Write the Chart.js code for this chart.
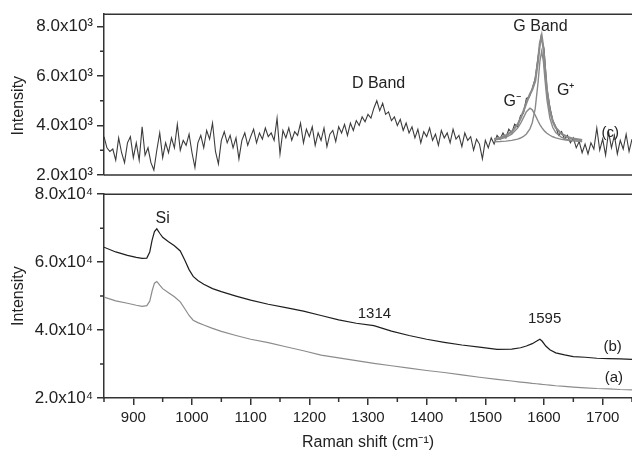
<!DOCTYPE html>
<html>
<head>
<meta charset="utf-8">
<script src="https://cdn.jsdelivr.net/npm/chart.js@4.4.0/dist/chart.umd.min.js"></script>
<style>
  html, body { margin: 0; padding: 0; background: #fff; }
  #wrap { position: relative; width: 632px; height: 450px; overflow: hidden; }
  canvas { position: absolute; left: 0; }
  #topChart { top: 0; }
  #bottomChart { top: 180px; }
</style>
</head>
<body>
<div id="wrap">
  <canvas id="topChart" width="632" height="190"></canvas>
  <canvas id="bottomChart" width="632" height="270"></canvas>
</div>
<script>
// ---- top panel (c): raw spectrum, every 5 cm-1
const ramanTop = [850,855,860,865,870,875,880,885,890,895,900,905,910,915,920,925,930,935,940,945,
  950,955,960,965,970,975,980,985,990,995,1000,1005,1010,1015,1020,1025,1030,1035,1040,1045,
  1050,1055,1060,1065,1070,1075,1080,1085,1090,1095,1100,1105,1110,1115,1120,1125,1130,1135,1140,1145,
  1150,1155,1160,1165,1170,1175,1180,1185,1190,1195,1200,1205,1210,1215,1220,1225,1230,1235,1240,1245,
  1250,1255,1260,1265,1270,1275,1280,1285,1290,1295,1300,1305,1310,1315,1320,1325,1330,1335,1340,1345,
  1350,1355,1360,1365,1370,1375,1380,1385,1390,1395,1400,1405,1410,1415,1420,1425,1430,1435,1440,1445,
  1450,1455,1460,1465,1470,1475,1480,1485,1490,1495,1500,1505,1510,1515,1520,1525,1530,1535,1540,1545,
  1550,1555,1560,1565,1570,1575,1580,1585,1590,1595,1600,1605,1610,1615,1620,1625,1630,1635,1640,1645,
  1650,1655,1660,1665,1670,1675,1680,1685,1690,1695,1700,1705,1710,1715,1720,1725,1730,1735,1740,1745,1750];
const intensityC = [3550,3100,2950,3050,2600,3500,2900,2500,3300,3550,2700,3300,2600,3950,2800,3100,2500,2200,3000,3700,
  2700,3300,2900,3500,3100,4050,3000,3400,3200,3650,2900,2300,3300,3600,3100,3800,3450,4100,2950,2450,
  3400,3750,3300,3600,3100,3500,2650,3400,3700,3200,3550,3850,3300,3700,3450,3900,3550,3700,3400,4300,
  2850,3800,3500,3900,3400,3750,3600,4100,3300,3850,3550,3950,3200,3700,3400,3900,3150,3650,3800,3350,
  3950,3700,4050,3600,4100,3800,4200,4000,4350,4150,4450,4300,4700,5000,4600,4900,4450,4550,4200,4350,
  4000,4250,3800,4100,3700,3950,3500,3850,3300,3750,3550,3900,3400,3650,3200,3800,3500,3700,3300,3850,
  3450,3600,3150,3700,3400,3550,3000,3450,3250,2650,3400,3100,3500,3250,3600,3450,3700,3500,3850,3700,
  4050,3950,4400,4500,5100,5150,5500,5900,6800,7600,7100,5500,4750,4200,3950,3600,3750,3450,3600,3300,
  3500,3100,3350,2900,3250,2850,3300,3050,3900,3000,3450,2800,3750,3100,3600,2850,3400,3050,3650,2950,3450];

// G band fit (components and sum)
const ramanFit = [1515,1525,1535,1545,1555,1560,1565,1570,1576,1580,1585,1590,1593,1596,1599,1602,1605,1610,1615,1620,1630,1640,1650,1665];
const fitGminus = [3412,3455,3526,3653,3893,4082,4320,4560,4700,4634,4420,4172,4040,3926,3832,3753,3689,3606,3546,3501,3440,3403,3378,3355];
const fitGplus = [3340,3352,3371,3400,3452,3495,3559,3657,3866,4115,4683,5770,6589,7000,6589,5770,5045,4297,3917,3712,3518,3433,3389,3355];
const fitSum = [3452,3507,3597,3753,4045,4277,4579,4917,5266,5449,5803,6642,7329,7626,7121,6223,5434,4603,4163,3913,3658,3536,3467,3410];

// ---- bottom panel: spectra (a) and (b)
const ramanBottom = [850,870,890,905,915,923,928,932,936,940,945,950,960,970,980,988,995,1002,1010,1020,
  1035,1050,1075,1100,1130,1160,1190,1220,1250,1280,1310,1340,1370,1400,1430,1460,1490,1520,1545,1560,
  1570,1580,1587,1593,1597,1603,1610,1620,1635,1650,1670,1690,1710,1730,1750];
const intensityB = [64400,63000,62000,61400,61100,61200,63000,66500,69000,69800,68500,67300,66000,64800,63300,60500,57800,55800,54600,53500,
  52200,51300,50000,48800,47600,46600,45600,44300,43000,42000,41300,39700,38400,37300,36400,35600,35000,34300,34400,34800,
  35300,36000,36700,37300,36700,35300,34200,33300,32700,32200,32000,31700,31600,31500,31400];
const intensityA = [49700,48600,47900,47300,47000,47200,48500,51500,53800,54300,53200,52200,51000,49800,48300,46200,44300,42900,42200,41500,
  40500,39600,38400,37300,36300,35100,33900,32600,31800,31000,30200,29500,28800,28100,27500,26800,26100,25500,25000,24700,
  24500,24300,24200,24100,24000,23900,23800,23600,23400,23200,23000,22800,22700,22500,22400];

// ---- axes
const xTicks = [900,1000,1100,1200,1300,1400,1500,1600,1700];
const xMinorTicks = [850,950,1050,1150,1250,1350,1450,1550,1650,1750];
const topYTicks = [2000,4000,6000,8000];
const topYLabels = ['2.0x10\u00B3','4.0x10\u00B3','6.0x10\u00B3','8.0x10\u00B3'];
const topYMinor = [3000,5000,7000];
const bottomYTicks = [20000,40000,60000,80000];
const bottomYLabels = ['2.0x10\u2074','4.0x10\u2074','6.0x10\u2074','8.0x10\u2074'];
const bottomYMinor = [30000,50000,70000];

// ---- annotations [text, x, y, size]
const topNotes = [
  ['D Band', 1318, 5700, 16],
  ['G Band', 1594, 8000, 16],
  ['G\u207B', 1546, 4950, 16],
  ['G\u207A', 1637, 5430, 16],
  ['(c)', 1713, 3700, 15]
];
const bottomNotes = [
  ['Si', 950, 72900, 16],
  ['1314', 1311, 44700, 15],
  ['1595', 1601, 43200, 15],
  ['(b)', 1717, 35000, 15],
  ['(a)', 1719, 25900, 15]
];

const FONT = '"Liberation Sans", Arial, sans-serif';
const AXIS = '#333';
Chart.defaults.font.family = FONT;
Chart.defaults.color = '#222';

function pts(xs, ys) { return xs.map((x, i) => ({ x: x, y: ys[i] })); }

// frame, minor ticks and text labels
function extras(notes, yMinor, xMinor, drawBottomLine) {
  return {
    id: 'extras',
    afterDraw(chart) {
      const ctx = chart.ctx;
      const a = chart.chartArea;
      const xs = chart.scales.x, ys = chart.scales.y;
      ctx.save();
      ctx.strokeStyle = AXIS;
      ctx.lineWidth = 1.5;
      ctx.beginPath();
      ctx.moveTo(a.left, a.top); ctx.lineTo(chart.width, a.top);
      if (drawBottomLine) { ctx.moveTo(a.left, a.bottom); ctx.lineTo(chart.width, a.bottom); }
      yMinor.forEach(v => {
        const y = ys.getPixelForValue(v);
        ctx.moveTo(a.left - 4, y); ctx.lineTo(a.left, y);
      });
      xMinor.forEach(v => {
        const x = xs.getPixelForValue(v);
        ctx.moveTo(x, a.bottom); ctx.lineTo(x, a.bottom + 4);
      });
      ctx.stroke();
      ctx.fillStyle = '#222';
      ctx.textAlign = 'center';
      ctx.textBaseline = 'middle';
      notes.forEach(n => {
        ctx.font = n[3] + 'px ' + FONT;
        ctx.fillText(n[0], xs.getPixelForValue(n[1]), ys.getPixelForValue(n[2]));
      });
      ctx.restore();
    }
  };
}

function yAxis(min, max, ticks, labels, title) {
  return {
    min: min, max: max,
    afterBuildTicks: s => { s.ticks = ticks.map(v => ({ value: v })); },
    afterFit: s => { s.width = 104; },
    ticks: { callback: (v, i) => labels[i], font: { size: 17 }, color: '#222', padding: 4 },
    grid: { drawOnChartArea: false, drawTicks: true, tickLength: 7, color: AXIS, lineWidth: 1.5 },
    border: { display: true, color: AXIS, width: 1.5 },
    title: { display: true, text: title, font: { size: 16 }, color: '#222', padding: { top: 9, bottom: 0 } }
  };
}

const common = {
  responsive: false,
  devicePixelRatio: 1,
  animation: false,
  events: [],
  plugins: { legend: { display: false }, tooltip: { enabled: false } },
  elements: { point: { radius: 0 }, line: { tension: 0 } }
};

new Chart(document.getElementById('topChart'), {
  type: 'line',
  data: {
    datasets: [
      { data: pts(ramanFit, fitSum), borderColor: '#8a8a8a', borderWidth: 2.2 },
      { data: pts(ramanFit, fitGplus), borderColor: '#8a8a8a', borderWidth: 1.4 },
      { data: pts(ramanFit, fitGminus), borderColor: '#8a8a8a', borderWidth: 1.4 },
      { data: pts(ramanTop, intensityC), borderColor: '#3c3c3c', borderWidth: 1.1 }
    ]
  },
  options: Object.assign({}, common, {
    layout: { padding: { top: 14, bottom: 15, left: 0, right: 0 } },
    scales: {
      x: { type: 'linear', min: 850, max: 1750, display: false },
      y: yAxis(2000, 8500, topYTicks, topYLabels, 'Intensity     ')
    }
  }),
  plugins: [extras(topNotes, topYMinor, [], true)]
});

new Chart(document.getElementById('bottomChart'), {
  type: 'line',
  data: {
    datasets: [
      { data: pts(ramanBottom, intensityB), borderColor: '#1e1e1e', borderWidth: 1.2 },
      { data: pts(ramanBottom, intensityA), borderColor: '#8c8c8c', borderWidth: 1.2 }
    ]
  },
  options: Object.assign({}, common, {
    layout: { padding: { top: 14, bottom: 0, left: 0, right: 0 } },
    scales: {
      x: {
        type: 'linear', min: 850, max: 1750,
        afterBuildTicks: s => { s.ticks = xTicks.map(v => ({ value: v })); },
        afterFit: s => { s.height = 52; },
        ticks: { callback: v => String(v), font: { size: 15 }, color: '#222', padding: 4, maxRotation: 0 },
        grid: { drawOnChartArea: false, drawTicks: true, tickLength: 7, color: AXIS, lineWidth: 1.5 },
        border: { display: true, color: AXIS, width: 1.5 },
        title: { display: true, text: 'Raman shift (cm\u207B\u00B9)', font: { size: 16 }, color: '#222', padding: { top: 0, bottom: -2 } }
      },
      y: yAxis(20000, 80000, bottomYTicks, bottomYLabels, 'Intensity')
    }
  }),
  plugins: [extras(bottomNotes, bottomYMinor, xMinorTicks, false)]
});
</script>
</body>
</html>
